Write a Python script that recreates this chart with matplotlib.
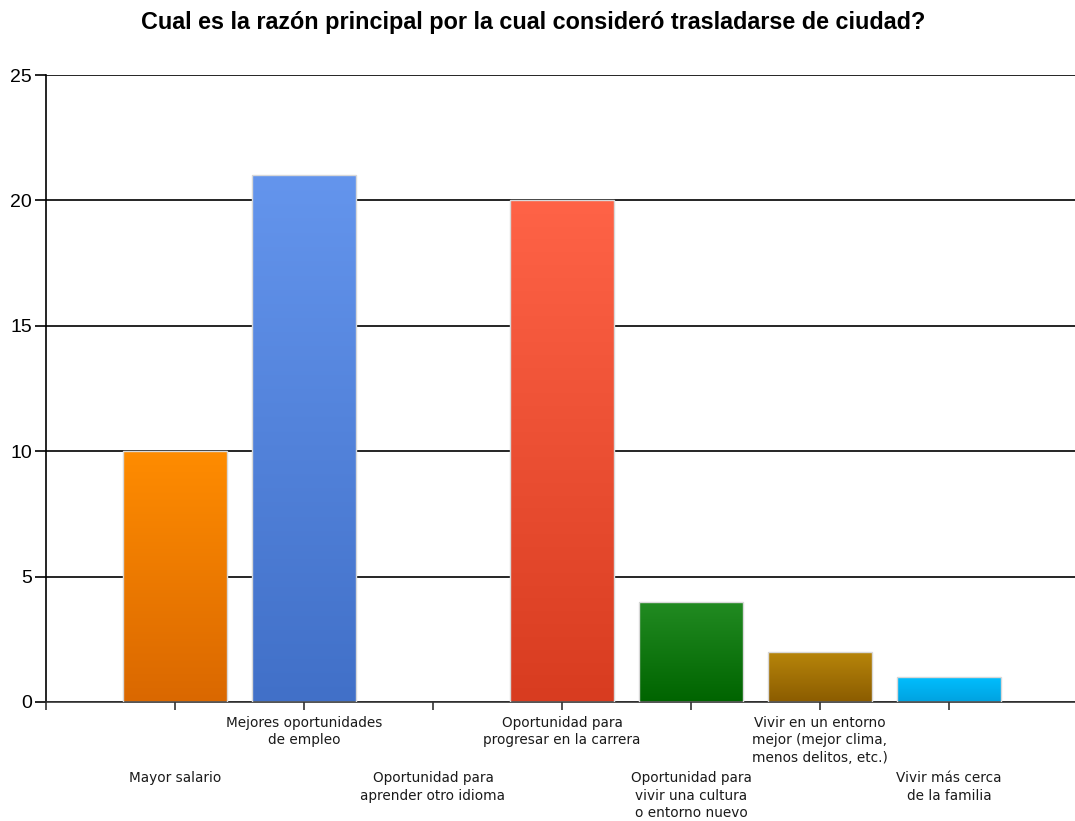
import matplotlib.pyplot as plt
import numpy as np
from matplotlib.colors import LinearSegmentedColormap

# data
categories = [
    "Mayor salario",
    "Mejores oportunidades\nde empleo",
    "Oportunidad para\naprender otro idioma",
    "Oportunidad para\nprogresar en la carrera",
    "Oportunidad para\nvivir una cultura\no entorno nuevo",
    "Vivir en un entorno\nmejor (mejor clima,\nmenos delitos, etc.)",
    "Vivir más cerca\nde la familia",
]
values = [10, 21, 0, 20, 4, 2, 1]
top_colors = ["#FF8C00", "#6495ED", "#FFFFFF", "#FF6347", "#228B22", "#B8860B", "#00BFFF"]
bottom_colors = ["#DA6800", "#4170C8", "#FFFFFF", "#D83C20", "#006400", "#8B5C00", "#00A2E0"]
y_ticks = [0, 5, 10, 15, 20, 25]

TITLE = "Cual es la razón principal por la cual consideró trasladarse de ciudad?"


def main() -> None:
    fig = plt.figure(figsize=(10.75, 8.21), dpi=100)
    ax = fig.add_axes([46 / 1075, 1 - 702 / 821, 1032 / 1075, 627 / 821])

    xs = np.arange(len(categories))
    bars = ax.bar(xs, values, width=0.8, facecolor="none",
                  edgecolor="#D8D8D8", linewidth=1.0, zorder=3)

    grad = np.linspace(0, 1, 256).reshape(-1, 1)
    for bar, v, ct, cb in zip(bars, values, top_colors, bottom_colors):
        if v <= 0:
            bar.set_visible(False)
            continue
        cmap = LinearSegmentedColormap.from_list("g", [ct, cb])
        x0 = bar.get_x()
        x1 = x0 + bar.get_width()
        im = ax.imshow(grad, cmap=cmap, aspect="auto",
                       extent=[x0, x1, 0, v], origin="upper", zorder=2.5)
        im.set_clip_path(bar)

    ax.set_xlim(-1, 7)
    ax.set_ylim(0, 25)
    ax.set_yticks(y_ticks)
    ax.set_yticklabels([str(t) for t in y_ticks], fontsize=14,
                       family="Liberation Sans")
    ax.set_xticks(np.arange(-1, 7))
    ax.set_xticklabels([])
    ax.tick_params(axis="y", length=8, width=1.2, pad=2, color="black")
    ax.tick_params(axis="x", length=6, width=1.2, color="#333333")

    ax.grid(axis="y", color="black", linewidth=1.2, zorder=1)
    ax.set_axisbelow(True)
    for s in ["top", "right"]:
        ax.spines[s].set_visible(False)
    ax.spines["left"].set_linewidth(1.2)
    ax.spines["bottom"].set_linewidth(1.2)
    ax.spines["bottom"].set_color("#333333")

    # staggered category labels
    for i, lab in enumerate(categories):
        off = 10 if i % 2 == 1 else 50
        ax.annotate(lab, xy=(i, 0), xycoords=("data", "axes fraction"),
                    xytext=(0, -off), textcoords="offset points",
                    ha="center", va="top", fontsize=9.8,
                    family="DejaVu Sans", color="#1A1A1A", linespacing=1.32,
                    annotation_clip=False)

    fig.text(533 / 1075, 1 - 23 / 821, TITLE, ha="center", va="center",
             fontsize=16.8, fontweight="bold", family="Liberation Sans")

    fig.savefig("out.png", dpi=100)


if __name__ == "__main__":
    main()
